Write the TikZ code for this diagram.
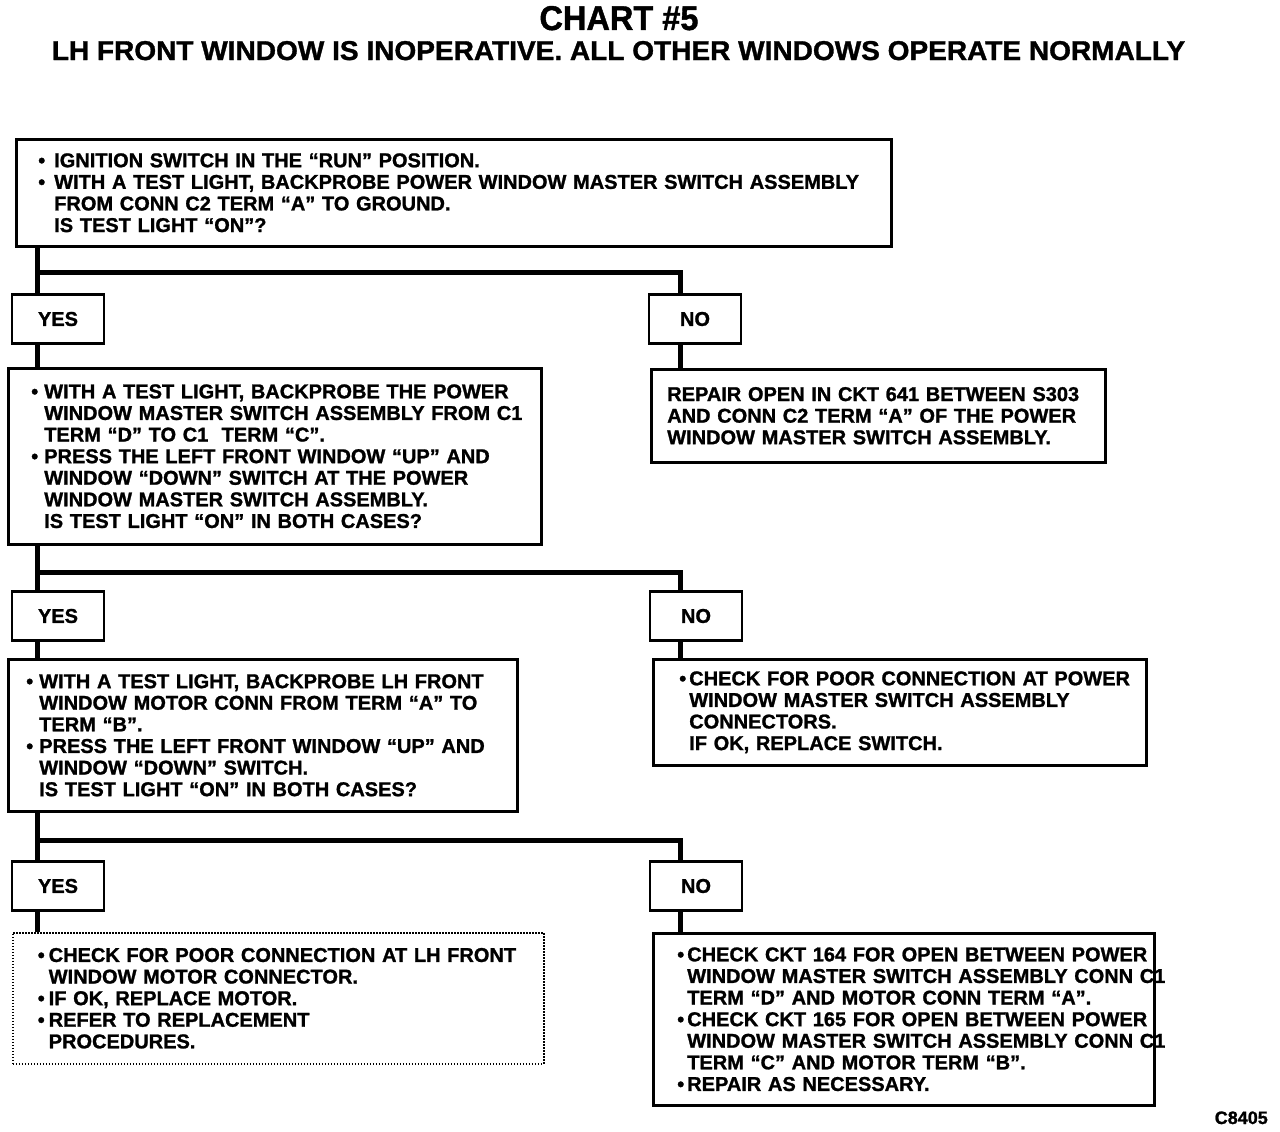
\documentclass[tikz,border=0pt]{standalone}
\usepackage{fontspec}
\setmainfont{Liberation Sans}[BoldFeatures={FakeBold=1.2}]
\usetikzlibrary{calc}
\newlength{\bulw}
\newcommand{\body}{\bfseries\fontsize{20}{21.6}\selectfont}
\newcommand{\bl}[1]{\mbox{\makebox[\bulw][l]{•}#1}}
\newcommand{\cl}[1]{\mbox{\hspace*{\bulw}#1}}
\begin{document}
\begin{tikzpicture}[x=1pt,y=-1pt,
  box/.style={draw, line width=2.5pt, align=left, font=\body, anchor=north west, inner ysep=0pt},
  dbox/.style={box, line width=1.5pt, dash pattern=on 1.5pt off 1.5pt},
  bw/.style={execute at begin node={\setlength{\bulw}{#1}}},
  yn/.style={draw, line width=2.5pt, minimum width=92pt, minimum height=49pt, inner sep=0pt, font=\body},
  conn/.style={line width=5pt}]
\useasboundingbox[fill=white] (0,0) rectangle (1280,1132);

% titles
\node[anchor=base, inner sep=0pt] (title) at (619,30) {\resizebox{159pt}{24pt}{\bfseries CHART \#5}};
\node[anchor=base, inner sep=0pt] (subtitle) at (618.5,60) {\resizebox{1133pt}{19pt}{\bfseries LH FRONT WINDOW IS INOPERATIVE. ALL OTHER WINDOWS OPERATE NORMALLY}};

% step 1
\node[box, bw=16pt, minimum width=875pt, minimum height=107pt, text width=831pt, inner xsep=22pt] (b1) at (15,138) {%
\bl{IGNITION SWITCH IN THE “RUN” POSITION.}\\
\bl{WITH A TEST LIGHT, BACKPROBE POWER WINDOW MASTER SWITCH ASSEMBLY}\\
\cl{FROM CONN C2 TERM “A” TO GROUND.}\\
\cl{IS TEST LIGHT “ON”?}};

\node[yn] (y1) at (58,319) {YES};
\node[yn] (n1) at (695,319) {NO};

\node[box, bw=13pt, minimum width=533pt, minimum height=176pt, text width=487pt, inner xsep=23pt] (b2) at (7,367) {%
\bl{WITH A TEST LIGHT, BACKPROBE THE POWER}\\
\cl{WINDOW MASTER SWITCH ASSEMBLY FROM C1}\\
\cl{TERM “D” TO C1\ \ TERM “C”.}\\
\bl{PRESS THE LEFT FRONT WINDOW “UP” AND}\\
\cl{WINDOW “DOWN” SWITCH AT THE POWER}\\
\cl{WINDOW MASTER SWITCH ASSEMBLY.}\\
\cl{IS TEST LIGHT “ON” IN BOTH CASES?}};

\node[box, bw=0pt, minimum width=454pt, minimum height=93pt, text width=422pt, inner xsep=16pt] (r1) at (650,368) {%
\cl{REPAIR OPEN IN CKT 641 BETWEEN S303}\\
\cl{AND CONN C2 TERM “A” OF THE POWER}\\
\cl{WINDOW MASTER SWITCH ASSEMBLY.}};

\node[yn] (y2) at (58,616) {YES};
\node[yn] (n2) at (696,616) {NO};

\node[box, bw=13pt, minimum width=509pt, minimum height=152pt, text width=473pt, inner xsep=18pt] (b3) at (7,658) {%
\bl{WITH A TEST LIGHT, BACKPROBE LH FRONT}\\
\cl{WINDOW MOTOR CONN FROM TERM “A” TO}\\
\cl{TERM “B”.}\\
\bl{PRESS THE LEFT FRONT WINDOW “UP” AND}\\
\cl{WINDOW “DOWN” SWITCH.}\\
\cl{IS TEST LIGHT “ON” IN BOTH CASES?}};

\node[box, bw=10pt, minimum width=493pt, minimum height=106pt, text width=441pt, inner xsep=26pt] (r2) at (652,658) {%
\bl{CHECK FOR POOR CONNECTION AT POWER}\\
\cl{WINDOW MASTER SWITCH ASSEMBLY}\\
\cl{CONNECTORS.}\\
\cl{IF OK, REPLACE SWITCH.}};

\node[yn] (y3) at (58,886) {YES};
\node[yn] (n3) at (696,886) {NO};

\node[dbox, bw=11pt, minimum width=531pt, minimum height=131pt, text width=481pt, inner xsep=25pt] (b4) at (12,932) {%
\bl{CHECK FOR POOR CONNECTION AT LH FRONT}\\
\cl{WINDOW MOTOR CONNECTOR.}\\
\bl{IF OK, REPLACE MOTOR.}\\
\bl{REFER TO REPLACEMENT}\\
\cl{PROCEDURES.}};

\node[box, bw=10pt, minimum width=501pt, minimum height=172pt, text width=453pt, inner xsep=24pt] (r3) at (652,932) {%
\bl{CHECK CKT 164 FOR OPEN BETWEEN POWER}\\
\cl{WINDOW MASTER SWITCH ASSEMBLY CONN C1}\\
\cl{TERM “D” AND MOTOR CONN TERM “A”.}\\
\bl{CHECK CKT 165 FOR OPEN BETWEEN POWER}\\
\cl{WINDOW MASTER SWITCH ASSEMBLY CONN C1}\\
\cl{TERM “C” AND MOTOR TERM “B”.}\\
\bl{REPAIR AS NECESSARY.}};

\node[anchor=base east, inner sep=0pt, font=\bfseries\fontsize{18}{20}\selectfont] (code) at (1268,1124) {C8405};

% connectors
\coordinate (j1) at (37,272);  \coordinate (k1) at (680,272);
\coordinate (j2) at (37,572);  \coordinate (k2) at (680,572);
\coordinate (j3) at (37,840);  \coordinate (k3) at (680,840);

\draw[conn] (b1.south -| j1) -- (j1) -- (k1) -- (n1.north -| k1);
\draw[conn] (j1) -- (y1.north -| j1);
\draw[conn] (y1.south -| j1) -- (b2.north -| j1);
\draw[conn] (n1.south -| k1) -- (r1.north -| k1);

\draw[conn] (b2.south -| j2) -- (j2) -- (k2) -- (n2.north -| k2);
\draw[conn] (j2) -- (y2.north -| j2);
\draw[conn] (y2.south -| j2) -- (b3.north -| j2);
\draw[conn] (n2.south -| k2) -- (r2.north -| k2);

\draw[conn] (b3.south -| j3) -- (j3) -- (k3) -- (n3.north -| k3);
\draw[conn] (j3) -- (y3.north -| j3);
\draw[conn] (y3.south -| j3) -- (b4.north -| j3);
\draw[conn] (n3.south -| k3) -- (r3.north -| k3);
\end{tikzpicture}
\end{document}
